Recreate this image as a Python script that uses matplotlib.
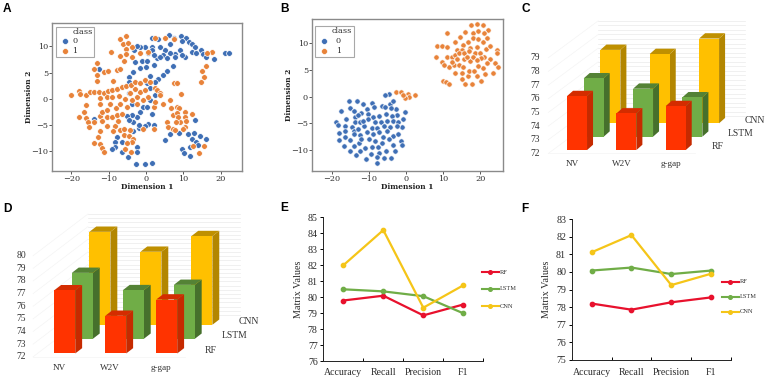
import matplotlib
matplotlib.use("Agg")
import matplotlib.pyplot as plt
from matplotlib.patches import Polygon, Rectangle

W, H = 767, 381
SERIF = "DejaVu Serif"
TIMES = "Liberation Serif"

# ---------- Panel A (t-SNE, class 0 / class 1) ----------
a0_x = [1.7,3.1,6.1,7.4,9.3,10.7,9.5,11.4,12.2,13.2,14.6,15.3,16.0,18.2,21.1,22.2,10.4,12.2,13.5,9.1,7.7,6.4,5.1,3.7,1.5,6.4,4.6,2.8,1.5,-0.3,-1.6,-3.1,-2.5,0.6,-1.2,-2.9,0.2,2.0,3.7,5.5,7.7,9.5,
        7.3,5.5,4.6,3.3,2.4,1.1,2.2,-0.1,-1.6,-3.4,-4.7,-4.7,0.2,1.1,2.4,1.1,-0.7,-1.6,-2.5,-3.8,-5.2,1.5,0.2,0.6,-0.3,-2.0,-3.4,-3.4,-2.0,2.0,-13.9,-12.7,
        -7.8,-8.3,-8.3,-9.2,-6.5,-6.5,-4.9,-2.5,-2.5,-2.7,-0.3,1.5,5.1,6.4,8.8,13.2,11.3,12.8,14.4,16.0,12.2,13.5,11.7,14.0,9.5,10.1,11.9,-4.7,-3.8,-4.7]
a0_y = [11.6,11.4,12.2,11.6,12.1,11.6,11.0,10.9,10.4,9.8,9.4,8.6,7.9,7.5,8.8,8.8,8.0,8.9,8.8,9.4,8.6,8.8,9.3,9.9,9.9,10.4,8.3,7.7,9.3,9.9,9.9,9.3,10.0,8.8,7.3,7.0,7.3,8.3,8.0,7.7,8.0,8.3,
        6.2,5.3,4.5,3.7,3.2,4.3,6.4,6.1,5.8,5.1,4.2,3.2,2.9,2.1,0.6,-0.3,-1.6,-2.6,-3.5,-3.1,-3.4,-2.9,-1.7,-4.8,-5.3,-5.6,-6.3,-4.5,-5.1,-5.1,-3.9,5.6,
        -7.3,-8.3,-9.3,-9.7,-8.3,-10.2,-11.3,-9.3,-10.2,-12.5,-12.5,-12.3,-8.0,-6.8,-6.6,-4.2,-6.8,-6.7,-7.2,-7.7,-7.7,-8.3,-9.3,-8.9,-9.6,-10.5,-11.0,1.0,-1.0,-4.2]
a1_x = [-5.3,-7.1,-6.2,-4.9,-5.3,-9.4,-3.8,-5.3,-7.1,-3.8,-5.9,-1.6,2.4,5.1,7.5,0.6,17.7,16.4,16.0,15.0,15.4,14.8,-13.2,-14.0,-13.2,-13.2,-11.4,-10.3,-7.8,-6.9,-8.9,
        -20.1,-17.9,-17.6,-16.2,-15.1,-13.9,-12.5,-11.4,-10.3,-9.0,-7.8,-6.5,-5.3,-4.0,-2.9,-1.6,-0.3,1.1,2.4,2.8,3.7,-12.3,-10.5,-9.2,-7.2,-16.2,-16.7,-18.0,-16.2,-15.6,-15.4,
        -12.3,-11.8,-10.5,-9.6,-8.1,-6.9,-5.2,-3.8,-2.5,-1.6,-0.3,0.6,-0.7,-2.5,-5.6,-4.3,-2.9,-11.8,-12.3,-14.0,-10.5,-9.2,-7.8,-6.5,-10.5,-8.3,-7.4,-6.9,-8.9,-5.9,-4.4,
        -12.3,-13.0,-14.0,-12.4,-11.8,-11.4,-6.0,-4.7,-3.4,-3.8,-5.2,-5.6,-4.1,-0.7,2.0,2.0,2.4,4.6,6.4,3.6,9.3,7.5,8.4,5.5,6.0,7.3,7.7,9.1,10.4,8.2,6.8,8.9,10.4,12.2,10.4,7.3,8.2,10.8,8.6,12.6,14.1,15.5,10.0,7.9]
a1_y = [12.1,11.5,10.5,10.7,9.6,8.9,9.9,8.6,8.1,8.0,7.2,8.8,11.6,11.6,11.5,8.9,8.9,8.8,6.3,5.3,4.2,3.2,6.8,5.6,4.5,3.4,5.1,5.2,5.4,5.6,3.3,
        0.7,1.5,0.8,0.6,1.2,1.3,1.3,1.0,1.5,1.7,1.9,2.2,2.4,2.6,3.2,3.0,3.5,3.2,2.1,1.6,1.0,0.1,0.3,0.3,0.4,-1.3,-2.5,-3.6,-3.7,-4.5,-5.4,
        -3.4,-2.6,-2.1,-1.1,-1.9,-1.0,-1.6,-0.3,0.3,1.3,1.6,0.3,-0.3,-1.0,0.0,1.0,1.9,-4.3,-1.1,-4.5,-3.5,-3.5,-3.1,-2.9,-5.2,-5.2,-4.3,-6.1,-6.3,-5.8,-6.1,
        -6.3,-7.3,-8.5,-8.8,-9.5,-10.3,-7.0,-7.2,-7.7,-8.3,-8.6,-9.6,-10.2,-5.8,-5.8,-1.6,-0.6,-1.1,-0.2,0.6,0.8,3.0,3.0,-4.5,-5.4,-5.8,-6.1,-4.5,-5.4,-1.6,-1.9,-1.9,-2.6,-2.9,-3.5,-3.2,-2.7,-4.3,-3.5,-9.1,-10.4,-9.1,-5.8,-4.5]

# ---------- Panel B ----------
b0_x = [-4.7,-5.6,-15.3,-13.2,-11.6,-9.1,-17.5,-15.0,-14.1,-12.1,-10.5,-8.6,-6.5,-5.6,-4.3,-3.4,-2.7,-4.0,-0.3,-2.3,-0.9,-16.1,-13.7,-12.8,-10.3,-8.8,-7.2,-5.4,-3.8,
        -18.9,-18.4,-16.3,-14.5,-13.7,-12.4,-10.3,-8.3,-6.8,-5.2,-3.4,-2.1,-1.2,-18.0,-16.3,-14.1,-12.8,-11.3,-9.2,-7.7,-5.8,-4.3,-2.3,-17.9,-16.3,-15.2,-13.9,-12.3,-10.5,-9.0,-7.4,-6.3,-5.0,-3.4,-2.1,
        -16.6,-15.2,-13.9,-12.6,-12.2,-10.0,-8.4,-6.4,-4.7,-1.4,-3.4,-1.1,-13.5,-12.4,-11.0,-10.8,-9.4,-9.2,-7.5,-7.3,-7.7,-7.7,-5.9,-5.4,-4.0,-3.0,-11.5]
b0_y = [0.6,0.4,-0.8,-0.9,-1.4,-1.1,-2.6,-2.1,-2.6,-3.0,-2.3,-2.0,-1.8,-1.9,-1.3,-0.9,-2.4,-2.1,-2.8,-3.4,-4.1,-4.1,-3.9,-3.4,-3.3,-3.8,-3.6,-3.3,-3.6,
        -4.8,-5.3,-5.5,-5.7,-4.8,-4.8,-4.1,-4.7,-4.7,-4.5,-4.5,-4.7,-5.6,-6.8,-6.5,-6.5,-6.1,-5.5,-5.8,-5.8,-5.5,-5.6,-5.5,-8.2,-7.5,-8.2,-7.1,-7.2,-6.6,-7.0,-6.7,-7.5,-6.4,-7.4,-7.1,
        -9.2,-10.2,-9.2,-8.7,-8.0,-8.0,-8.3,-8.7,-8.0,-8.3,-9.0,-9.1,-11.0,-10.2,-9.7,-11.7,-10.8,-9.4,-9.4,-10.5,-11.3,-12.4,-11.5,-10.2,-11.5,-10.2,-4.5]
b1_x = [11.1,14.5,13.2,16.0,17.4,19.1,20.8,22.1,18.1,19.5,20.9,18.1,19.4,20.6,21.8,16.7,15.4,13.8,15.0,17.2,19.2,21.4,22.7,24.4,24.6,8.4,9.8,11.0,8.1,9.7,10.9,12.3,13.2,14.3,15.6,17.0,18.5,19.9,20.9,20.1,22.6,23.9,24.8,23.5,21.3,19.2,16.7,15.1,16.0,17.8,20.3,10.0,10.7,11.7,
        11.5,12.9,13.3,15.0,16.9,18.4,20.8,19.4,17.2,15.6,14.3,12.3,10.2,13.6,18.1,16.3,19.0,21.7,15.4,-2.7,-1.3,0.6,2.3,0.9,-0.3,-0.7]
b1_y = [12.0,11.3,10.2,12.1,13.4,13.7,13.5,12.5,11.9,12.4,11.9,11.0,10.8,10.2,11.0,10.2,9.7,8.8,8.8,9.1,9.4,9.0,9.6,8.8,8.3,9.5,9.5,9.4,7.5,6.5,7.4,7.5,7.8,8.2,8.3,8.5,8.3,8.3,7.5,7.2,7.0,6.3,5.6,4.5,4.3,3.9,3.9,3.3,2.4,2.3,2.9,2.9,2.7,2.3,
        5.6,6.0,4.5,4.5,4.9,4.9,5.3,5.8,6.7,7.0,6.0,6.6,6.0,7.0,7.4,7.5,6.9,6.3,5.6,0.8,0.9,0.6,0.3,-0.1,-0.3,0.3]

# ---------- Panels C / D (3D bars) ----------
bar_categories = ["NV", "W2V", "g-gap"]
bar_series = ["RF", "LSTM", "CNN"]
c_rf = [75.95, 74.68, 75.22]
c_lstm = [76.27, 75.51, 74.88]
c_cnn = [77.37, 77.07, 78.20]
d_rf = [77.0, 74.98, 76.27]
d_lstm = [77.22, 75.85, 76.27]
d_cnn = [79.36, 77.78, 79.02]

# ---------- Panels E / F (lines) ----------
metrics = ["Accuracy", "Recall", "Precision", "F1"]
e_rf = [79.8, 80.1, 78.87, 79.55]
e_lstm = [80.5, 80.37, 80.07, 79.0]
e_cnn = [82.0, 84.2, 79.35, 80.75]
f_rf = [78.2, 77.85, 78.27, 78.55]
f_lstm = [80.08, 80.25, 79.88, 80.08]
f_cnn = [81.12, 82.1, 79.25, 79.9]

BLUE, ORANGE = "#3f6fb5", "#e8833a"


def px_axes(fig, l, t, r, b):
    return fig.add_axes([l / W, 1 - b / H, (r - l) / W, (b - t) / H])


def scatter_panel(ax, x0, y0, x1, y1, xlim, ylim, size, xlab_y, ylab_x, lg):
    ax.scatter(x0, y0, s=size, c=BLUE, edgecolors="white", linewidths=0.5, label="0", zorder=2)
    ax.scatter(x1, y1, s=size, c=ORANGE, edgecolors="white", linewidths=0.5, label="1", zorder=3)
    ax.set_xlim(*xlim)
    ax.set_ylim(*ylim)
    ax.set_xticks([-20, -10, 0, 10, 20])
    ax.set_yticks([-10, -5, 0, 5, 10])
    ax.tick_params(labelsize=5.9, length=2.0, width=0.7, color="#555555", labelcolor="#333333", pad=0.8)
    for lab in ax.get_xticklabels() + ax.get_yticklabels():
        lab.set_family(SERIF)
    for s in ax.spines.values():
        s.set_color("#8a8a8a")
        s.set_linewidth(1.0)
    ax.set_xlabel("Dimension 1", family=SERIF, fontweight="bold", fontsize=5.4, color="#222222", va="center")
    ax.set_ylabel("Dimension 2", family=SERIF, fontweight="bold", fontsize=5.4, color="#222222", va="center")
    ax.xaxis.set_label_coords(0.5, xlab_y)
    ax.yaxis.set_label_coords(ylab_x, 0.5)
    # legend box, laid out to sit where the reference's does
    l, t, r, b = lg["box"]
    fig.add_artist(Rectangle((l / W, 1 - b / H), (r - l) / W, (b - t) / H, transform=fig.transFigure,
                             fc="white", ec="#a8a8a8", lw=0.8, zorder=4))
    fig.text(lg["title_x"] / W, 1 - lg["ys"][0] / H, "class", ha="center", va="center", family=SERIF,
             fontsize=5.9, color="#333333", zorder=5)
    for y, name, col in zip(lg["ys"][1:], ("0", "1"), (BLUE, ORANGE)):
        fig.add_artist(plt.Line2D([lg["mx"] / W], [1 - y / H], marker="o", ms=4.2, mfc=col, mec="white", mew=0.4,
                                  lw=0, zorder=5))
        fig.text(lg["tx"] / W, 1 - y / H, name, ha="center", va="center", family=SERIF, fontsize=5.9,
                 color="#333333", zorder=5)


def bars_panel(ax, rf, lstm, cnn, xlim, ylim, ticks, tick_x, cfg):
    ax.set_xlim(*xlim)
    ax.set_ylim(*ylim)
    ax.axis("off")
    dx, dy = cfg["dx"], cfg["dy"]
    bw = cfg["bw"]
    low = ticks[0]
    # back wall + side wall grid
    wx0, wx1, wy, sx = cfg["wx0"], cfg["wx1"], cfg["wy"], cfg["sx"]
    n = (ticks[-1] - low) * 3
    for k in range(n + 1):
        t = low + k / 3
        ax.plot([wx0, wx1], [t + wy, t + wy], color="#eaeaea", lw=0.5, zorder=1)
    for t in ticks:
        ax.plot([sx, wx0], [t, t + wy], color="#f4f4f4", lw=0.5, zorder=1)
    ax.plot([sx, wx1 - (wx0 - sx)], [low, low], color="#f4f4f4", lw=0.5, zorder=1)
    styles = [("#ff3300", "#c62a00", "#d42c00"), ("#70ad47", "#46702c", "#548235"), ("#ffc000", "#b38600", "#bf9000")]
    series = [rf, lstm, cnn]
    for s in [2, 1, 0]:
        front, side, top = styles[s]
        off = cfg["offs"][s]
        for c in [2, 1, 0]:
            v = series[s][c]
            xl = c + s * cfg["sdx"] - bw / 2
            xr = xl + bw
            y0, y1 = low + off, v + off
            z = 10 - s + 0.1 * c
            ax.add_patch(Polygon([(xr, y0), (xr + dx, y0 + dy), (xr + dx, y1 + dy), (xr, y1)], fc=side, ec="none", zorder=z))
            ax.add_patch(Polygon([(xl, y1), (xr, y1), (xr + dx, y1 + dy), (xl + dx, y1 + dy)], fc=top, ec="none", zorder=z))
            ax.add_patch(Polygon([(xl, y0), (xr, y0), (xr, y1), (xl, y1)], fc=front, ec="none", zorder=z + 0.01))
    for t in ticks:
        ax.text(tick_x, t, str(t), ha="center", va="center", family=TIMES, fontsize=6.9, color="#333333")
    for i, name in enumerate(bar_categories):
        ax.text(i - cfg["catdx"], cfg["caty"], name, ha="center", va="center", family=TIMES, fontsize=6.6, color="#333333")
    for s, name in enumerate(bar_series):
        ax.text(cfg["sx_lab"][s], cfg["sy_lab"][s], name, ha="center", va="center", family=TIMES, fontsize=6.9, color="#333333")


def lines_panel(ax, rf, lstm, cnn, ylim, leg_y, leg_x, cat_off):
    xs = [0.5, 1.5, 2.5, 3.5]
    cols = {"RF": "#e8112d", "LSTM": "#70ad47", "CNN": "#f5c518"}
    for name, vals in (("RF", rf), ("LSTM", lstm), ("CNN", cnn)):
        ax.plot(xs, vals, color=cols[name], lw=1.6, marker="o", ms=3.1, clip_on=False, zorder=3)
    ax.set_xlim(0, 4)
    ax.set_ylim(*ylim)
    ax.set_yticks(range(ylim[0], ylim[1] + 1))
    ax.set_xticks([0, 1, 2, 3, 4])
    ax.set_xticklabels([])
    ax.tick_params(axis="y", labelsize=7.2, length=2.5, width=0.7, pad=1.5, labelcolor="#2a2a2a")
    ax.tick_params(axis="x", length=2.5, width=0.7, direction="in")
    for lab in ax.get_yticklabels():
        lab.set_family(TIMES)
    for k in ("top", "right"):
        ax.spines[k].set_visible(False)
    for k in ("left", "bottom"):
        ax.spines[k].set_linewidth(0.7)
        ax.spines[k].set_color("#222222")
    for x, m in zip(xs, metrics):
        ax.annotate(m, (x, 0), xycoords=("data", "axes fraction"), xytext=(0, -cat_off), textcoords="offset points",
                    ha="center", va="center", family=TIMES, fontsize=7.1, color="#2a2a2a")
    ax.set_ylabel("Matrix Values", family=TIMES, fontsize=7.3, labelpad=3.3, color="#2a2a2a")
    for y, name in zip(leg_y, ("RF", "LSTM", "CNN")):
        fig.add_artist(plt.Line2D([leg_x / W, (leg_x + 17) / W], [1 - y / H] * 2, color=cols[name], lw=1.5))
        fig.add_artist(plt.Line2D([(leg_x + 8.5) / W], [1 - y / H], color=cols[name], marker="o", ms=2.6, lw=0))
        fig.text((leg_x + 18) / W, 1 - y / H, name, ha="left", va="center", family=TIMES, fontsize=4.6, color="#333333")


fig = plt.figure(figsize=(W / 100, H / 100), dpi=100, facecolor="white")

ax_a = px_axes(fig, 52, 23, 242, 171)
scatter_panel(ax_a, a0_x, a0_y, a1_x, a1_y, (-25.2, 25.7), (-13.9, 14.5), 17, -0.108, -0.121,
              dict(box=(55.7, 26.7, 94.3, 57.3), title_x=83, ys=(32.3, 40.7, 50.7), mx=65, tx=75))
ax_b = px_axes(fig, 312, 19.5, 503, 170.7)
scatter_panel(ax_b, b0_x, b0_y, b1_x, b1_y, (-25.3, 26.1), (-13.9, 14.5), 15, -0.106, -0.12,
              dict(box=(315.3, 25.7, 354.3, 57.3), title_x=341.7, ys=(31.3, 41.3, 51), mx=324, tx=338.3))

# C: 1 category = 49.33 px, 1 value unit = 13.67 px
ax_c = px_axes(fig, 515, 0, 767, 190)
bars_panel(ax_c, c_rf, c_lstm, c_cnn, (-1.257, 3.85), (69.32, 83.22), list(range(72, 80)), -0.84,
           dict(dx=0.122, dy=0.39, bw=0.405, sdx=0.338, offs=[0.24, 1.22, 2.2], wx0=0.43, wx1=3.4, wy=2.7, sx=-0.58,
                catdx=0.09, caty=71.2, sx_lab=[2.84, 3.32, 3.61], sy_lab=[72.5, 73.44, 74.44]))
# D: 1 category = 51 px, 1 value unit = 12.63 px
ax_d = px_axes(fig, 0, 190, 260, 381)
bars_panel(ax_d, d_rf, d_lstm, d_cnn, (-1.27, 3.83), (70.08, 85.2), list(range(72, 81)), -0.853,
           dict(dx=0.135, dy=0.42, bw=0.412, sdx=0.345, offs=[0.26, 1.42, 2.53], wx0=0.455, wx1=3.44, wy=3.3, sx=-0.62,
                catdx=0.11, caty=71.08, sx_lab=[2.86, 3.33, 3.62], sy_lab=[72.53, 73.66, 74.77]))

ax_e = px_axes(fig, 323.3, 217.3, 483.3, 361.3)
lines_panel(ax_e, e_rf, e_lstm, e_cnn, (76, 85), [272, 289, 306], 481.7, 8.2)
ax_f = px_axes(fig, 571.7, 219.3, 731, 359.7)
lines_panel(ax_f, f_rf, f_lstm, f_cnn, (75, 83), [281.7, 296.7, 311.7], 721.7, 8.9)

for letter, x, y in (("A", 3, 9), ("B", 280, 9), ("C", 521.5, 9), ("D", 3, 209), ("E", 280, 208), ("F", 521.5, 208.5)):
    fig.text(x / W, 1 - y / H, letter, ha="left", va="center", family="Liberation Sans", fontweight="bold",
             fontsize=8.6, color="black")

fig.savefig("out.png", dpi=100, facecolor="white")
